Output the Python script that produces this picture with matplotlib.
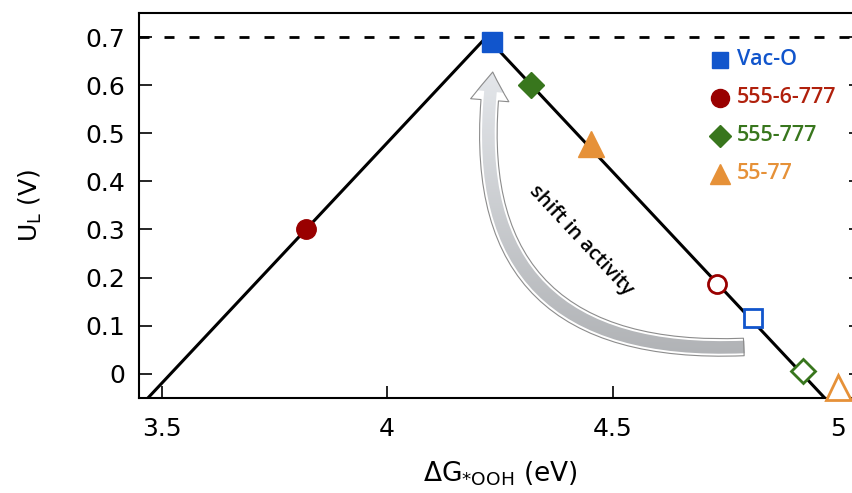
import numpy as np
import matplotlib.pyplot as plt
from matplotlib.patches import FancyArrowPatch
from matplotlib.colors import LinearSegmentedColormap

plt.rcParams['font.family'] = ['DejaVu Sans']
plt.rcParams['mathtext.default'] = 'regular'

# volcano line vertices (left branch, apex, right branch)
volcano_x = [3.45, 4.22, 5.05]
volcano_y = [-0.07, 0.70, -0.13]
u_max = 0.70

names = ['Vac-O', '555-6-777', '555-777', '55-77']
markers = ['s', 'o', 'D', '^']
msizes = [14, 14, 13.5, 19]
leg_sizes = [12, 13, 11, 14]
colors = ['#1155cc', '#990000', '#38761d', '#e69138']
text_colors = ['#1155cc', '#b0200c', '#38761d', '#e69138']

# filled: before, hollow: after
g_before = [4.232, 3.820, 4.319, 4.453]
u_before = [0.689, 0.302, 0.600, 0.477]
g_after = [4.811, 4.731, 4.922, 5.000]
u_after = [0.115, 0.187, 0.006, -0.027]

fig = plt.figure(figsize=(8.53, 4.93), dpi=100)
ax = fig.add_axes([0.163, 0.193, 1.009 - 0.163, 0.9736 - 0.193])

ax.plot(volcano_x, volcano_y, color='black', lw=2.2, zorder=2)
ax.axhline(u_max, color='black', lw=2.0, linestyle=(0, (3.6, 5.4)), zorder=2)

for i in range(len(names)):
    ax.plot(g_before[i], u_before[i], marker=markers[i], ms=msizes[i],
            color=colors[i], mec=colors[i], linestyle='none', zorder=5)
    ax.plot(g_after[i], u_after[i], marker=markers[i], ms=msizes[i] - 1,
            mfc='white', mec=colors[i], mew=2.0, linestyle='none', zorder=5,
            clip_on=False)
    # legend entry
    ly = 0.878 - 0.0985 * i
    ax.plot(0.805, ly, marker=markers[i], ms=leg_sizes[i], color=colors[i],
            linestyle='none', transform=ax.transAxes, zorder=6)
    ax.text(0.829, ly, names[i], color=text_colors[i], transform=ax.transAxes,
            ha='left', va='center', fontsize=15.5, family='Open Sans',
            fontweight='semibold', zorder=6)

# curved arrow with gradient fill
arrow = FancyArrowPatch((4.797, 0.056), (4.235, 0.633),
                        connectionstyle='arc3,rad=-0.6',
                        arrowstyle='simple,head_width=2.3,head_length=1.7,tail_width=1.05',
                        mutation_scale=12, facecolor='none', edgecolor='#8c8c8c',
                        lw=0.8, zorder=3)
ax.add_patch(arrow)
grad = np.linspace(0, 1, 256).reshape(-1, 1)
img = ax.imshow(grad, extent=[4.1, 4.9, -0.05, 0.75], aspect='auto',
                cmap=LinearSegmentedColormap.from_list('g', ['#a9abae', '#eef1f5']),
                origin='lower', zorder=2.5)
img.set_clip_path(arrow)

ax.text(4.43, 0.277, 'shift in activity', rotation=-47, ha='center', va='center',
        fontsize=14.5, family='Open Sans', fontweight='semibold', zorder=6)

ax.set_xlim(3.45, 5.05)
ax.set_ylim(-0.05, 0.75)
xt = [3.5, 4, 4.5, 5]
yt = [0, 0.1, 0.2, 0.3, 0.4, 0.5, 0.6, 0.7]
ax.set_xticks(xt)
ax.set_xticklabels(['3.5', '4', '4.5', '5'])
ax.set_yticks(yt)
ax.set_yticklabels(['0', '0.1', '0.2', '0.3', '0.4', '0.5', '0.6', '0.7'])
ax.tick_params(direction='in', length=9, width=1.2, labelsize=18, pad=10,
               right=True)
ax.tick_params(axis='x', pad=14)
for s in ax.spines.values():
    s.set_linewidth(1.5)

ax.set_xlabel('ΔG$_{*OOH}$ (eV)', fontsize=19, labelpad=13)
ax.set_ylabel('U$_L$ (V)', fontsize=18, labelpad=30)

fig.savefig('out.png', dpi=100)
